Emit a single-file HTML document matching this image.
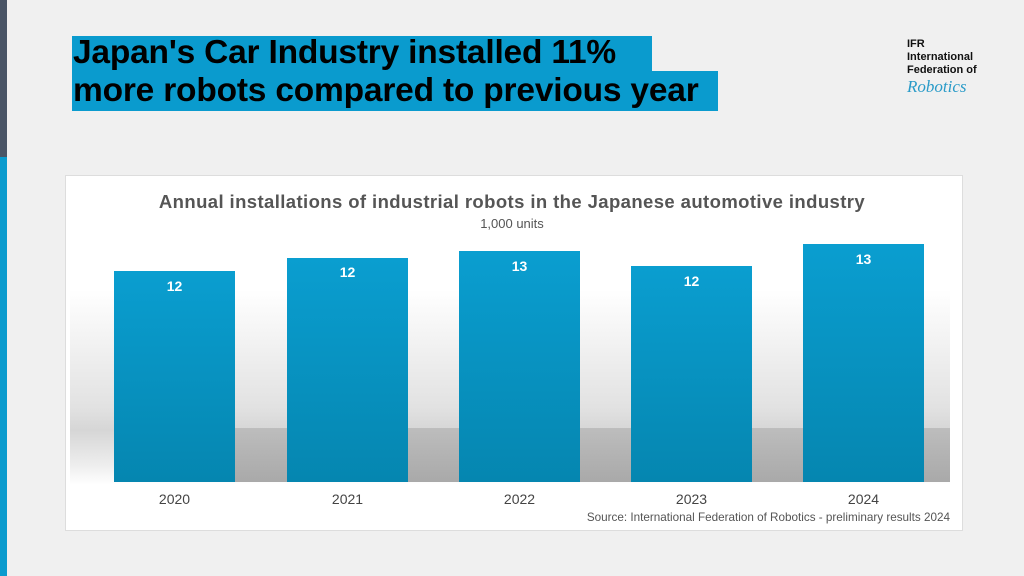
<!DOCTYPE html>
<html><head><meta charset="utf-8"><style>
body{margin:0;width:1024px;height:576px;background:#f0f0f0;position:relative;overflow:hidden;font-family:"Liberation Sans",sans-serif}
.a{position:absolute}
.bar{position:absolute;width:121px;bottom:94px;background:linear-gradient(#0a9ed0,#0586b0)}
.v{position:absolute;width:121px;text-align:center;color:#fff;font-weight:bold;font-size:14px}
.y{position:absolute;width:121px;text-align:center;color:#444;font-size:14px;top:491px}
</style></head><body>
<div class="a" style="left:0;top:0;width:7px;height:157px;background:#4a5566"></div>
<div class="a" style="left:0;top:157px;width:7px;height:419px;background:#0a9bce"></div>
<div class="a" style="left:72px;top:36px;width:580px;height:36px;background:#0a9bce"></div>
<div class="a" style="left:72px;top:71px;width:646px;height:40px;background:#0a9bce"></div>
<div class="a" style="left:73px;top:34px;font-size:33.5px;font-weight:bold;color:#000;line-height:38px;letter-spacing:-0.2px">Japan's Car Industry installed 11%<br>more robots compared to previous year</div>
<div class="a" style="left:907px;top:38px;font-size:11px;line-height:13px;color:#111;font-weight:bold">IFR<br>International<br>Federation of</div>
<div class="a" style="left:907px;top:77px;font-size:17px;font-style:italic;color:#2a9bc8;font-family:'Liberation Serif',serif">Robotics</div>
<div class="a" style="left:65px;top:175px;width:898px;height:356px;background:#fff;border:1px solid #ddd;box-sizing:border-box"></div>
<div class="a" style="left:70px;top:290px;width:880px;height:195px;background:linear-gradient(#fff,#e2e2e2 60%,#d6d6d6 72%,#eee 90%,#fff)"></div>
<div class="a" style="left:120px;top:428px;width:830px;height:54px;background:linear-gradient(#bdbdbd,#a9a9a9)"></div>
<div class="a" style="left:0;top:191px;width:1024px;text-align:center;font-size:18.5px;font-weight:bold;color:#555;letter-spacing:0.4px">Annual installations of industrial robots in the Japanese automotive industry</div>
<div class="a" style="left:0;top:216px;width:1024px;text-align:center;font-size:13px;color:#555">1,000 units</div>
<div class="bar" style="left:114px;top:271px"></div><div class="v" style="left:114px;top:278px">12</div>
<div class="bar" style="left:287px;top:258px"></div><div class="v" style="left:287px;top:264px">12</div>
<div class="bar" style="left:459px;top:251px"></div><div class="v" style="left:459px;top:258px">13</div>
<div class="bar" style="left:631px;top:266px"></div><div class="v" style="left:631px;top:273px">12</div>
<div class="bar" style="left:803px;top:244px"></div><div class="v" style="left:803px;top:251px">13</div>
<div class="y" style="left:114px">2020</div><div class="y" style="left:287px">2021</div><div class="y" style="left:459px">2022</div><div class="y" style="left:631px">2023</div><div class="y" style="left:803px">2024</div>
<div class="a" style="right:74px;top:511px;font-size:11.7px;color:#555">Source: International Federation of Robotics - preliminary results 2024</div>
</body></html>
